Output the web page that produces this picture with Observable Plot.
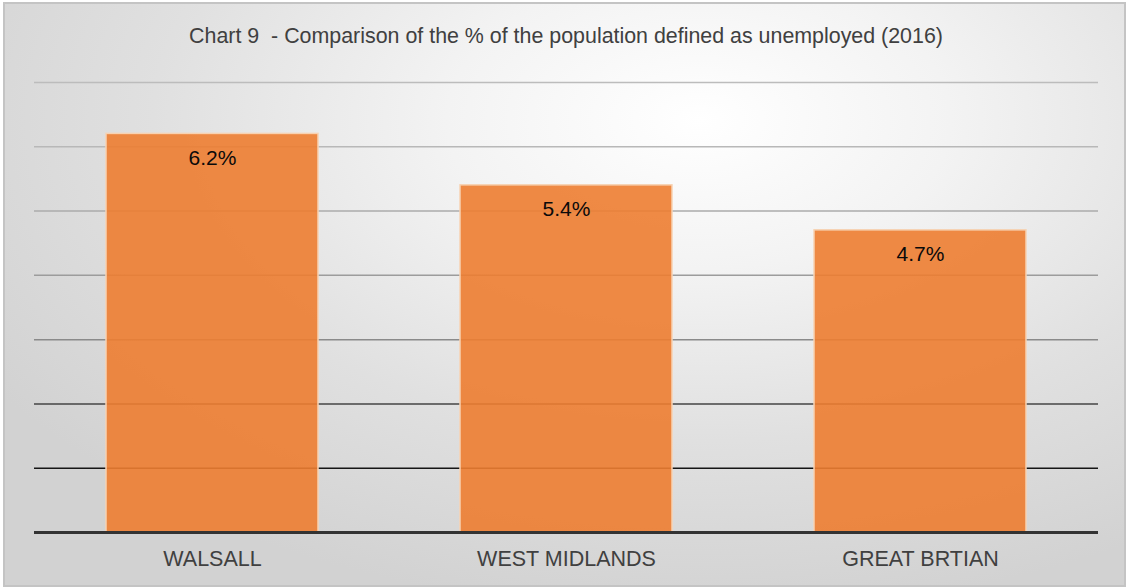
<!DOCTYPE html>
<html>
<head>
<meta charset="utf-8">
<script src="https://cdn.jsdelivr.net/npm/d3@7"></script>
<script src="https://cdn.jsdelivr.net/npm/@observablehq/plot@0.6"></script>
<style>
  html, body { margin: 0; padding: 0; background: #ffffff; width: 1128px; height: 588px; overflow: hidden; }
  #frame {
    position: absolute; left: 3px; top: 2px; width: 1123px; height: 585px; box-sizing: border-box;
    border: 2px solid #c4c4c4;
    background: radial-gradient(ellipse 75% 85% at 62% 20%, #ffffff 0%, #f3f3f3 30%, #e0e0e0 65%, #d2d2d2 100%);
  }
  #title {
    position: absolute; left: 2px; top: 0; width: 1128px; height: 60px; box-sizing: border-box;
    padding-top: 26px; line-height: 21px; text-align: center;
    font-family: "Liberation Sans", Arial, sans-serif; font-size: 21.4px; color: #404040; white-space: pre;
  }
  #chart { position: absolute; left: 0; top: 60px; }
</style>
</head>
<body>
<div id="frame"></div>
<div id="title">Chart 9  - Comparison of the % of the population defined as unemployed (2016)</div>
<div id="chart"></div>
<script>
const categories = ["WALSALL", "WEST MIDLANDS", "GREAT BRTIAN"];
const values = [6.2, 5.4, 4.7];
const valueLabels = ["6.2%", "5.4%", "4.7%"];
const gridValues = [1, 2, 3, 4, 5, 6, 7];
const gridColors = ["#151515", "#444444", "#8a8a8a", "#9c9c9c", "#ababab", "#b8b8b8", "#bcbcbc"];

const data = categories.map((c, i) => ({category: c, value: values[i], label: valueLabels[i]}));
const grid = gridValues.map((v, i) => ({v, color: gridColors[i]}));

const chart = Plot.plot({
  width: 1128,
  height: 520,
  marginLeft: 34,
  marginRight: 30,
  marginTop: 22,
  marginBottom: 48,
  style: {background: "transparent", fontFamily: "'Liberation Sans', Arial, sans-serif", overflow: "visible"},
  x: {domain: categories, paddingInner: 0.4, paddingOuter: 0.2, label: null},
  y: {domain: [0, 7], axis: null},
  marks: [
    Plot.ruleY(grid, {y: "v", stroke: "color", strokeWidth: 1.5}),
    Plot.barY(data, {x: "category", y: "value", fill: "#ED7D31", fillOpacity: 0.9, stroke: "#f7d2b2", strokeWidth: 1.5}),
    Plot.ruleY([0], {stroke: "#333333", strokeWidth: 3}),
    Plot.axisX({tickSize: 0, tickPadding: 18, fontSize: 21.5, fill: "#404040", label: null}),
    Plot.text(data, {x: "category", y: "value", text: "label", dy: 24, fontSize: 21, fill: "#0a0a0a"})
  ]
});
document.getElementById("chart").appendChild(chart);
</script>
</body>
</html>
